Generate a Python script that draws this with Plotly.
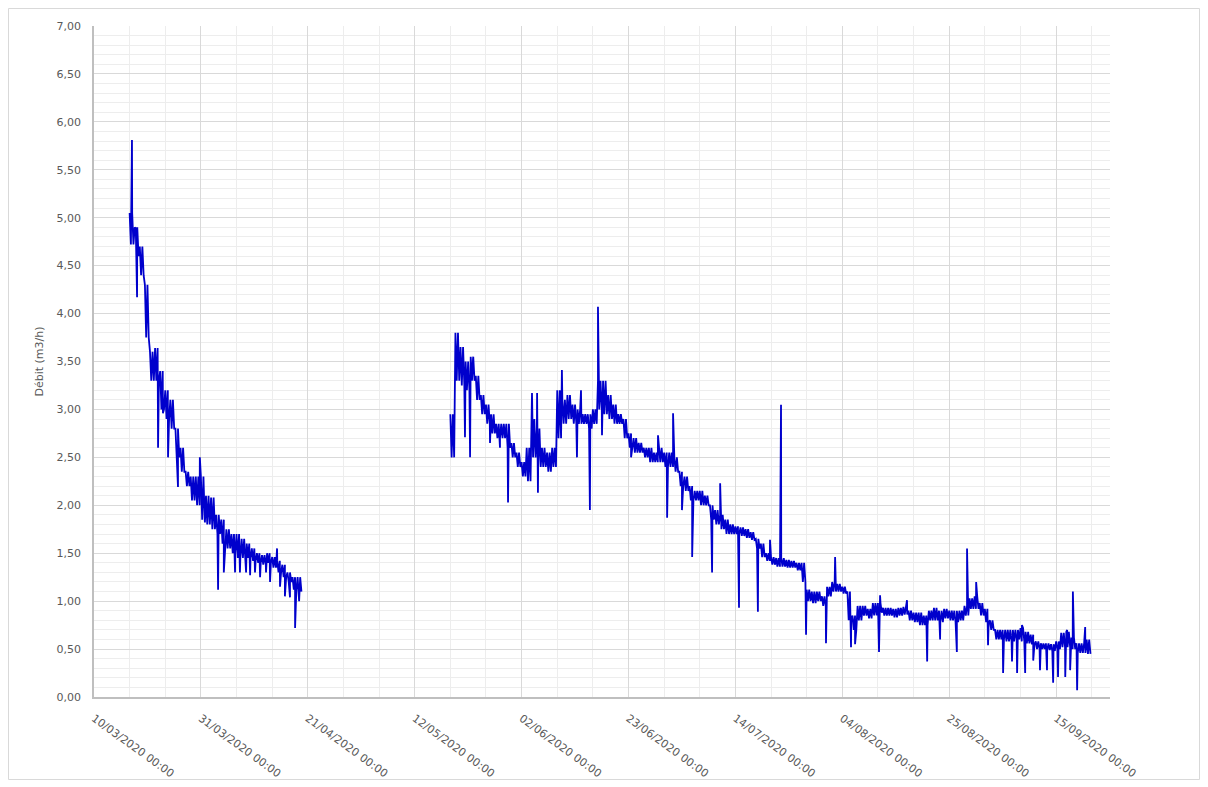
import pandas as pd
import plotly.graph_objects as go

# ---------------- data ----------------
tick_labels = ["10/03/2020 00:00", "31/03/2020 00:00", "21/04/2020 00:00", "12/05/2020 00:00",
               "02/06/2020 00:00", "23/06/2020 00:00", "14/07/2020 00:00", "04/08/2020 00:00",
               "25/08/2020 00:00", "15/09/2020 00:00"]

# segment 1: daily high / low of the flow (m3/h), from 17/03/2020
seg1_start = "2020-03-17"
seg1_hi = [5.05, 4.90, 4.70, 4.30, 3.60, 3.64, 3.40, 3.20, 3.10, 2.80,
           2.60, 2.35, 2.30, 2.30, 2.30, 2.10, 2.08, 1.90, 1.85, 1.75,
           1.70, 1.70, 1.65, 1.60, 1.55, 1.50, 1.48, 1.50, 1.46, 1.42,
           1.38, 1.30, 1.25, 1.25]
seg1_lo = [4.72, 4.60, 4.40, 3.75, 3.30, 3.30, 3.00, 2.90, 2.80, 2.50,
           2.35, 2.20, 2.05, 2.00, 1.85, 1.80, 1.75, 1.70, 1.60, 1.55,
           1.50, 1.45, 1.45, 1.45, 1.42, 1.40, 1.38, 1.40, 1.35, 1.30,
           1.25, 1.20, 1.12, 1.10]
seg1_spike_times = ["2020-03-17 11:00", "2020-03-18 05:00", "2020-03-18 11:00", "2020-03-22 14:00",
                    "2020-03-23 13:00", "2020-03-24 13:00", "2020-03-26 12:00", "2020-03-30 19:00",
                    "2020-03-31 19:00", "2020-04-03 09:00", "2020-04-04 12:00", "2020-04-06 17:00",
                    "2020-04-07 16:00", "2020-04-08 21:00", "2020-04-09 16:00", "2020-04-10 15:00",
                    "2020-04-11 15:00", "2020-04-12 19:00", "2020-04-13 14:00", "2020-04-14 23:00",
                    "2020-04-15 13:00", "2020-04-16 12:00", "2020-04-17 12:00", "2020-04-18 12:00",
                    "2020-04-19 07:00"]
seg1_spike_vals = [5.81, 4.89, 4.17, 2.60, 2.96, 2.50, 2.19, 2.50, 1.82, 1.12, 1.30, 1.30,
                   1.30, 1.30, 1.27, 1.30, 1.25, 1.30, 1.20, 1.55, 1.15, 1.05, 1.04, 0.72, 1.00]

# segment 2: daily high / low of the flow (m3/h), from 19/05/2020
seg2_start = "2020-05-19"
seg2_hi = [2.95, 3.80, 3.65, 3.50, 3.55, 3.35, 3.15, 3.05, 2.95, 2.85,
           2.85, 2.85, 2.65, 2.55, 2.45, 2.60, 2.90, 2.80, 2.60, 2.55,
           2.60, 3.20, 3.10, 3.15, 3.05, 3.00, 2.95, 2.95, 3.00, 3.30,
           3.30, 3.15, 3.05, 2.95, 2.90, 2.75, 2.70, 2.65, 2.60, 2.60,
           2.55, 2.60, 2.55, 2.55, 2.50, 2.35, 2.30, 2.20, 2.15, 2.15,
           2.10, 2.00, 1.95, 1.90, 1.85, 1.80, 1.78, 1.77, 1.75, 1.72,
           1.65, 1.60, 1.50, 1.46, 1.45, 1.45, 1.43, 1.42, 1.40, 1.40,
           1.12, 1.10, 1.10, 1.05, 1.15, 1.20, 1.18, 1.15, 1.10, 0.85,
           0.95, 0.95, 0.92, 0.98, 0.98, 0.93, 0.93, 0.92, 0.93, 0.94,
           0.90, 0.88, 0.88, 0.85, 0.90, 0.93, 0.90, 0.92, 0.90, 0.90,
           0.90, 0.95, 1.03, 1.05, 0.98, 0.92, 0.80, 0.70, 0.70, 0.70,
           0.70, 0.70, 0.72, 0.68, 0.65, 0.58, 0.56, 0.56, 0.55, 0.58,
           0.67, 0.68, 0.62, 0.56, 0.56, 0.60]
seg2_lo = [2.50, 3.30, 3.25, 3.20, 3.30, 3.10, 2.95, 2.85, 2.75, 2.70,
           2.70, 2.60, 2.50, 2.40, 2.30, 2.25, 2.50, 2.40, 2.40, 2.35,
           2.40, 2.70, 2.85, 2.90, 2.85, 2.85, 2.85, 2.80, 2.85, 3.00,
           2.95, 2.90, 2.85, 2.85, 2.70, 2.60, 2.55, 2.55, 2.50, 2.45,
           2.45, 2.45, 2.40, 2.40, 2.35, 2.20, 2.15, 2.05, 2.05, 2.00,
           2.00, 1.85, 1.80, 1.75, 1.70, 1.70, 1.70, 1.68, 1.66, 1.64,
           1.55, 1.46, 1.42, 1.38, 1.36, 1.36, 1.35, 1.35, 1.32, 1.20,
           1.00, 0.98, 1.00, 0.95, 1.05, 1.10, 1.10, 1.08, 0.80, 0.70,
           0.80, 0.85, 0.82, 0.85, 0.88, 0.85, 0.85, 0.83, 0.85, 0.86,
           0.80, 0.78, 0.75, 0.75, 0.80, 0.80, 0.78, 0.82, 0.80, 0.78,
           0.80, 0.85, 0.92, 0.92, 0.85, 0.78, 0.70, 0.60, 0.60, 0.58,
           0.58, 0.60, 0.58, 0.56, 0.55, 0.50, 0.50, 0.49, 0.48, 0.50,
           0.52, 0.52, 0.50, 0.46, 0.46, 0.45]
seg2_spike_times = ["2020-05-21 21:00", "2020-05-22 21:00", "2020-05-23 11:00", "2020-05-26 19:00",
                    "2020-05-28 18:00", "2020-05-30 08:00", "2020-06-04 01:00", "2020-06-05 01:00",
                    "2020-06-05 05:00", "2020-06-09 22:00", "2020-06-12 21:00", "2020-06-13 16:00",
                    "2020-06-15 10:00", "2020-06-17 00:00", "2020-06-17 19:00", "2020-06-23 12:00",
                    "2020-06-28 19:00", "2020-06-30 14:00", "2020-07-01 18:00", "2020-07-03 12:00",
                    "2020-07-05 12:00", "2020-07-09 10:00", "2020-07-11 00:00", "2020-07-14 17:00",
                    "2020-07-18 10:00", "2020-07-20 19:00", "2020-07-22 23:00", "2020-07-27 21:00",
                    "2020-07-31 19:00", "2020-08-02 14:00", "2020-08-05 17:00", "2020-08-06 12:00",
                    "2020-08-11 05:00", "2020-08-11 10:00", "2020-08-16 17:00", "2020-08-20 16:00",
                    "2020-08-23 05:00", "2020-08-26 12:00", "2020-08-28 12:00", "2020-08-30 07:00",
                    "2020-09-01 15:00", "2020-09-04 14:00", "2020-09-06 08:00", "2020-09-07 08:00",
                    "2020-09-08 07:00", "2020-09-08 22:00", "2020-09-10 12:00", "2020-09-11 20:00",
                    "2020-09-13 05:00", "2020-09-14 10:00", "2020-09-15 09:00", "2020-09-16 19:00",
                    "2020-09-17 04:00", "2020-09-17 18:00", "2020-09-18 07:00", "2020-09-19 03:00",
                    "2020-09-20 17:00"]
seg2_spike_vals = [2.71, 2.50, 3.53, 2.65, 2.60, 2.03, 3.17, 3.17, 2.13, 3.41, 2.50, 3.20,
                   1.95, 4.07, 2.73, 2.50, 2.73, 1.87, 2.96, 1.95, 1.46, 1.30, 2.23, 0.93,
                   0.89, 1.64, 3.05, 0.65, 0.56, 1.46, 0.52, 0.55, 0.47, 1.06, 1.01, 0.37,
                   0.60, 0.47, 1.55, 1.20, 0.54, 0.25, 0.37, 0.25, 0.75, 0.25, 0.38, 0.28,
                   0.28, 0.15, 0.21, 0.21, 0.70, 0.28, 1.10, 0.07, 0.73]


def build_series(start, hi, lo, spike_times, spike_vals):
    """Each day: alternate the read high/low values (hourly oscillation), then add spikes."""
    days = pd.date_range(start, periods=len(hi), freq="D")
    times, vals = [], []
    for d, h, l in zip(days, hi, lo):
        for k, v in enumerate((h, l, h, l)):
            times.append(d + pd.Timedelta(hours=6 * k))
            vals.append(v)
    df = pd.DataFrame({"t": times + list(pd.to_datetime(spike_times)),
                       "v": vals + list(spike_vals)})
    return df.sort_values("t")


s1 = build_series(seg1_start, seg1_hi, seg1_lo, seg1_spike_times, seg1_spike_vals)
s2 = build_series(seg2_start, seg2_hi, seg2_lo, seg2_spike_times, seg2_spike_vals)

tick_vals = pd.to_datetime(tick_labels, format="%d/%m/%Y %H:%M")

LINE = "#0000CC"
TXT = "#595959"
FONT = "DejaVu Sans"
FS = 11

# page offset of the plot div (browser body margin) is 8 px
W, H = 1192, 779
ML, MT, PW, PH = 86, 18, 1016, 671

fig = go.Figure()
for s in (s1, s2):
    fig.add_trace(go.Scatter(x=s["t"], y=s["v"], mode="lines",
                             line=dict(color=LINE, width=1.8), showlegend=False,
                             hoverinfo="x+y"))

fig.update_layout(
    width=W, height=H,
    margin=dict(l=ML, r=W - ML - PW, t=MT, b=H - MT - PH, autoexpand=False),
    paper_bgcolor="white", plot_bgcolor="white",
    separators=", ",
    font=dict(family=FONT, size=FS, color=TXT),
    showlegend=False,
)

fig.update_xaxes(
    type="date",
    range=["2020-03-10", "2020-09-25 14:00"],
    tickmode="array", tickvals=tick_vals, ticktext=tick_labels,
    tickangle=36,
    ticks="", ticklabelstandoff=9,
    showgrid=True, gridcolor="#d9d9d9", gridwidth=1,
    minor=dict(tick0="2020-03-10", dtick=7 * 86400000, showgrid=True,
               gridcolor="#ededed", gridwidth=1),
    showline=True, linecolor="#bfbfbf", linewidth=1.5,
    zeroline=False,
    tickfont=dict(family=FONT, size=FS, color=TXT),
)

fig.update_yaxes(
    range=[0, 7], tick0=0, dtick=0.5, tickformat=".2f",
    ticks="", ticklabelstandoff=9,
    showgrid=True, gridcolor="#d9d9d9", gridwidth=1,
    minor=dict(dtick=0.1, showgrid=True, gridcolor="#ededed", gridwidth=1),
    showline=True, linecolor="#bfbfbf", linewidth=1.5,
    zeroline=False,
    title=dict(text="Débit (m3/h)", standoff=11, font=dict(family=FONT, size=FS, color=TXT)),
    tickfont=dict(family=FONT, size=FS, color=TXT),
)

# outer chart frame (page px 8..1200 x 8..778)
fig.add_shape(type="rect", xref="paper", yref="paper",
              x0=(8.5 - 94) / PW, x1=(1199.5 - 94) / PW,
              y0=(697 - 779.5) / PH, y1=(697 - 8.5) / PH,
              line=dict(color="#d9d9d9", width=1), fillcolor="rgba(0,0,0,0)", layer="below")

fig.write_html("out.html")
